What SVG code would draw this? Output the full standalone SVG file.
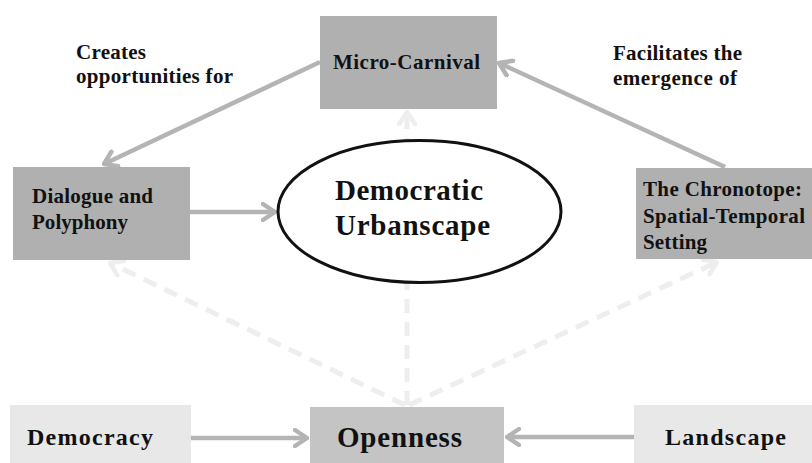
<svg xmlns="http://www.w3.org/2000/svg" width="812" height="463" viewBox="0 0 812 463">
<style>
text{font-family:"Liberation Serif","Times New Roman",serif;font-weight:bold;fill:#111;}
.s{font-size:21px;}
.m{font-size:24px;}
.l{font-size:29px;}
.dark{fill:#b0b0b0;}
.mid{fill:#c4c4c4;}
.light{fill:#e8e8e8;}
.solid{stroke:#b4b4b4;stroke-width:4.5;fill:none;marker-end:url(#ah);}
.dash{stroke:#eeeeee;stroke-width:5;fill:none;stroke-dasharray:14 9;marker-end:url(#ahd);}
</style>
<defs>
<marker id="ah" viewBox="0 0 16 20" refX="14" refY="10" markerWidth="16" markerHeight="20" markerUnits="userSpaceOnUse" orient="auto">
<path d="M2,2 L14,10 L2,18" fill="none" stroke="#b4b4b4" stroke-width="4.5" stroke-linecap="round" stroke-linejoin="round"/>
</marker>
<marker id="ahd" viewBox="0 0 16 20" refX="14" refY="10" markerWidth="16" markerHeight="20" markerUnits="userSpaceOnUse" orient="auto">
<path d="M2,2 L14,10 L2,18" fill="none" stroke="#eeeeee" stroke-width="4.5" stroke-linecap="round" stroke-linejoin="round"/>
</marker>
</defs>
<rect width="812" height="463" fill="#fff"/>
<g id="connectors">
<line class="dash" x1="407" y1="405" x2="407" y2="112"/>
<line class="dash" x1="405" y1="405" x2="110" y2="263"/>
<line class="dash" x1="409" y1="405" x2="717" y2="262"/>
<line class="solid" x1="320" y1="62" x2="104" y2="164"/>
<line class="solid" x1="725" y1="167" x2="499" y2="63"/>
<line class="solid" x1="190" y1="212" x2="275" y2="212"/>
<line class="solid" x1="191" y1="438" x2="307" y2="438"/>
<line class="solid" x1="634" y1="437" x2="507" y2="437"/>
</g>
<g id="label-creates">
<text class="s" x="76" y="59" textLength="70" lengthAdjust="spacing">Creates</text>
<text class="s" x="76" y="83" textLength="157" lengthAdjust="spacing">opportunities for</text>
</g>
<g id="label-facilitates">
<text class="s" x="613" y="60" textLength="129" lengthAdjust="spacing">Facilitates the</text>
<text class="s" x="613" y="85" textLength="124" lengthAdjust="spacing">emergence of</text>
</g>
<g id="micro-carnival">
<rect class="dark" x="320" y="16" width="177" height="93"/>
<text class="s" x="333" y="69" textLength="147" lengthAdjust="spacing">Micro-Carnival</text>
</g>
<g id="dialogue">
<rect class="dark" x="13" y="167" width="177" height="93"/>
<text class="s" x="32" y="203" textLength="121" lengthAdjust="spacing">Dialogue and</text>
<text class="s" x="32" y="229" textLength="96" lengthAdjust="spacing">Polyphony</text>
</g>
<g id="chronotope">
<rect class="dark" x="636" y="168" width="176" height="91"/>
<text class="s" x="643" y="196" textLength="159" lengthAdjust="spacing">The Chronotope:</text>
<text class="s" x="643" y="223" textLength="162" lengthAdjust="spacing">Spatial-Temporal</text>
<text class="s" x="643" y="249" textLength="64" lengthAdjust="spacing">Setting</text>
</g>
<g id="urbanscape">
<ellipse cx="419.5" cy="211.5" rx="141.5" ry="71" fill="#fff" stroke="#111" stroke-width="3"/>
<text class="l" x="335" y="200" textLength="148" lengthAdjust="spacing">Democratic</text>
<text class="l" x="335" y="235" textLength="155" lengthAdjust="spacing">Urbanscape</text>
</g>
<g id="democracy">
<rect class="light" x="10" y="405" width="181" height="58"/>
<text class="m" x="27" y="445" textLength="126" lengthAdjust="spacing">Democracy</text>
</g>
<g id="openness">
<rect class="mid" x="310" y="407" width="194" height="56"/>
<text class="l" x="337" y="447" textLength="125" lengthAdjust="spacing">Openness</text>
</g>
<g id="landscape">
<rect class="light" x="634" y="405" width="178" height="58"/>
<text class="m" x="665" y="445" textLength="121" lengthAdjust="spacing">Landscape</text>
</g>
</svg>
